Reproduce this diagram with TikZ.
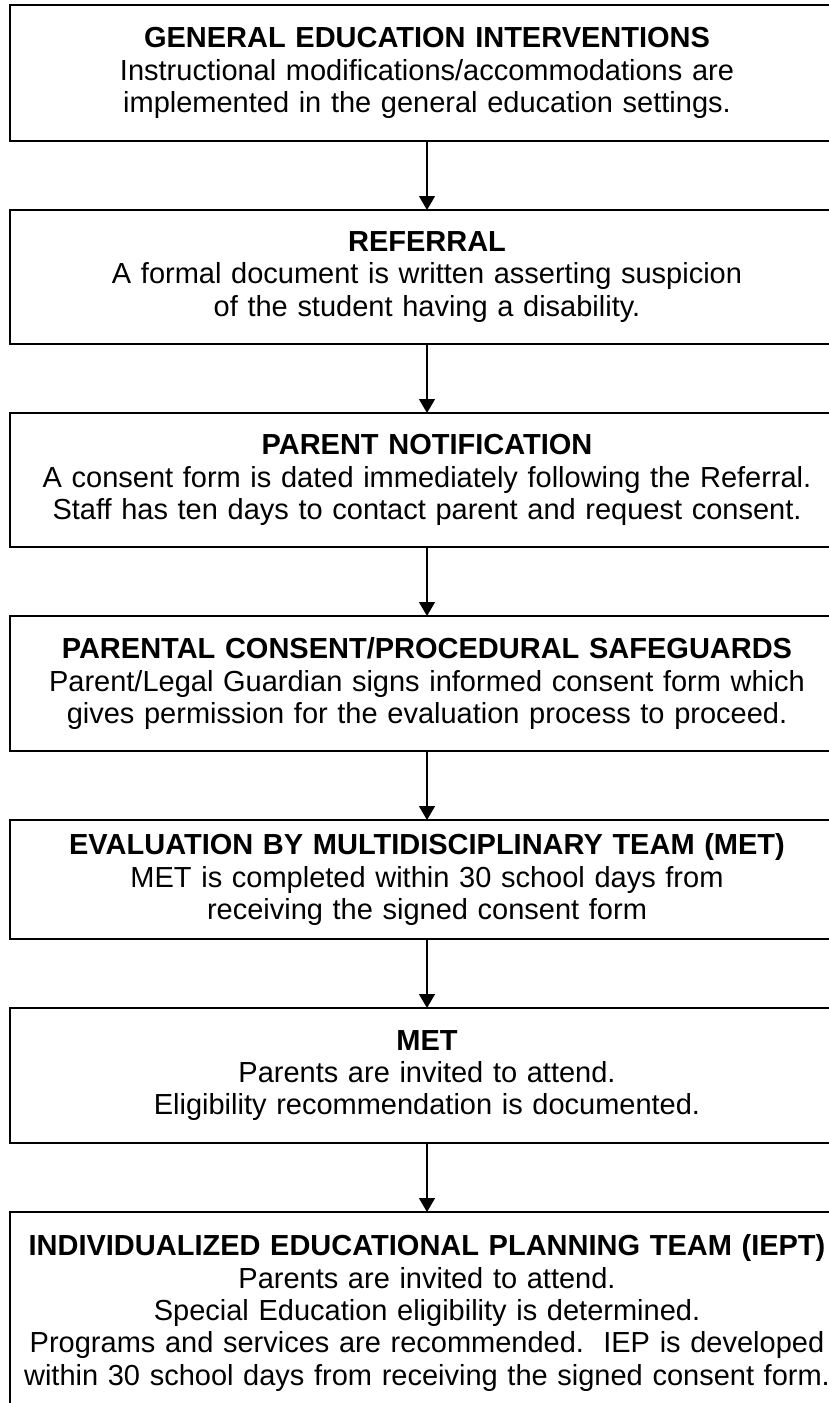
\documentclass[tikz,border=0pt]{standalone}
\usepackage{fontspec}
\setmainfont{Liberation Sans}
\usetikzlibrary{calc,arrows.meta,positioning}
\newcommand{\steptitle}[1]{{\bfseries #1}}

\begin{document}
\begin{tikzpicture}[-{Triangle[width=0.32cm,length=0.28cm]},node distance=1.38cm,
  box/.style={draw,line width=1.5pt,inner sep=0pt,outer sep=0pt,text width=16.68cm,align=center,
    font=\fontsize{16.5}{18.4}\selectfont}]
  \useasboundingbox (0,0) rectangle (16.58,-28.06);
  \clip (0,0) rectangle (16.58,-28.06);
  \node[box,minimum height=2.72cm,anchor=north] (1) at (8.54,-0.1) {\steptitle{GENERAL EDUCATION INTERVENTIONS}\\Instructional modifications/accommodations are\\implemented in the general education settings.};
  \node[box,minimum height=2.68cm] (2) [below =of 1] {\steptitle{REFERRAL}\\A formal document is written asserting suspicion\\of the student having a disability.};
  \node[box,minimum height=2.68cm] (3) [below =of 2] {\steptitle{PARENT NOTIFICATION}\\A consent form is dated immediately following the Referral.\\Staff has ten days to contact parent and request consent.};
  \node[box,minimum height=2.70cm] (4) [below =of 3] {\steptitle{PARENTAL CONSENT/PROCEDURAL SAFEGUARDS}\\Parent/Legal Guardian signs informed consent form which\\gives permission for the evaluation process to proceed.};
  \node[box,minimum height=2.38cm] (5) [below =of 4] {\steptitle{EVALUATION BY MULTIDISCIPLINARY TEAM (MET)}\\MET is completed within 30 school days from\\receiving the signed consent form};
  \node[box,minimum height=2.70cm] (6) [below =of 5] {\steptitle{MET}\\Parents are invited to attend.\\Eligibility recommendation is documented.};
  \node[box,minimum height=4.04cm] (7) [below =of 6] {\steptitle{INDIVIDUALIZED EDUCATIONAL PLANNING TEAM (IEPT)}\\Parents are invited to attend.\\Special Education eligibility is determined.\\Programs and services are recommended.\ \ IEP is developed\\within 30 school days from receiving the signed consent form.};

  \path[line width=0.8pt]
    (1) edge (2)
    (2) edge (3)
    (3) edge (4)
    (4) edge (5)
    (5) edge (6)
    (6) edge (7);
\end{tikzpicture}
\end{document}
